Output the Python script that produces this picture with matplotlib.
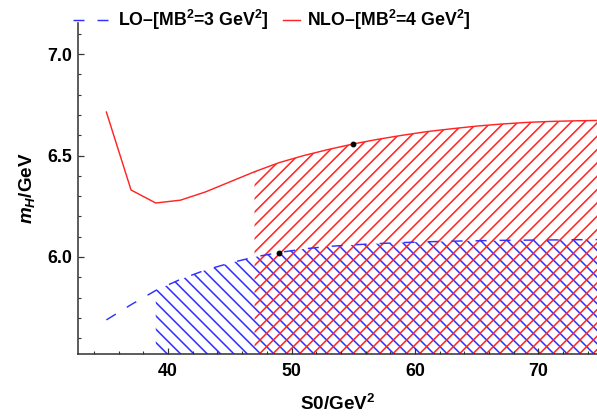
import numpy as np
import matplotlib
matplotlib.use("Agg")
import matplotlib.pyplot as plt
from matplotlib.ticker import MultipleLocator

#values
s0 = [35, 37, 39, 41, 43, 45, 47, 49, 51, 53, 55, 57, 59, 61, 63, 65, 67, 69, 71, 73, 75]
m_nlo = [6.714, 6.33, 6.266, 6.28, 6.32, 6.37, 6.42, 6.465, 6.50, 6.53, 6.557, 6.58,
         6.60, 6.618, 6.632, 6.645, 6.655, 6.663, 6.668, 6.671, 6.673]
m_lo = [5.69, 5.765, 5.835, 5.89, 5.935, 5.97, 6.0, 6.022, 6.04, 6.052, 6.06, 6.066,
        6.071, 6.075, 6.078, 6.08, 6.082, 6.083, 6.084, 6.085, 6.086]
lo_start = 39    #where the LO window begins
nlo_start = 47   #where the NLO window begins
dots_x = [49, 55]
dots_y = [6.022, 6.557]
lo_label = "LO\u2013[MB$^2$=3 GeV$^2$]"
nlo_label = "NLO\u2013[MB$^2$=4 GeV$^2$]"

plt.rcParams['font.family'] = 'Liberation Sans'
plt.rcParams['font.weight'] = 'bold'
plt.rcParams['mathtext.fontset'] = 'custom'
plt.rcParams['mathtext.rm'] = 'Liberation Sans:bold'
plt.rcParams['mathtext.it'] = 'Liberation Sans:italic:bold'
plt.rcParams['mathtext.bf'] = 'Liberation Sans:bold'
plt.rcParams['hatch.linewidth'] = 1.4
plt.rcParams['lines.scale_dashes'] = False

blue = '#3030ff'
red = '#ff2525'

dpi = 80
fig = plt.figure(figsize=(597 / dpi, 417 / dpi), dpi=dpi)
ax = fig.add_axes([78 / 597, 63 / 417, 519 / 597, 331 / 417])

x = np.array(s0)
lo = np.array(m_lo)
nlo = np.array(m_nlo)

#hatched windows, down to below the axis
ax.fill_between(x, lo, 5.0, where=x >= lo_start, facecolor='none', edgecolor=blue,
                hatch='\\\\', linewidth=0)
ax.fill_between(x, nlo, 5.0, where=x >= nlo_start, facecolor='none', edgecolor=red,
                hatch='//', linewidth=0)

l1, = ax.plot(x, lo, color=blue, lw=1.3, dashes=(9.9, 11.7), label=lo_label)
l2, = ax.plot(x, nlo, color=red, lw=1.3, label=nlo_label)
ax.scatter(dots_x, dots_y, s=18, color='black', zorder=5)

ax.set_xlim(32.7, 74.75)
ax.set_ylim(5.522, 7.153)

for side in ['top', 'right']:
    ax.spines[side].set_visible(False)
for side in ['left', 'bottom']:
    ax.spines[side].set_color('#333333')
    ax.spines[side].set_linewidth(1.4)

ax.xaxis.set_major_locator(MultipleLocator(10))
ax.xaxis.set_minor_locator(MultipleLocator(2))
ax.yaxis.set_major_locator(MultipleLocator(0.5))
ax.yaxis.set_minor_locator(MultipleLocator(0.1))
ax.yaxis.set_major_formatter(plt.FormatStrFormatter('%.1f'))
ax.tick_params(which='major', direction='in', length=5.5, width=1.1, color='#333333',
               labelsize=16)
ax.tick_params(which='minor', direction='in', length=3, width=1.0, color='#333333')
ax.tick_params(axis='x', pad=8)
ax.tick_params(axis='y', pad=5)
for t in ax.get_xticklabels() + ax.get_yticklabels():
    t.set_fontweight('bold')

ax.set_xlabel("S0/GeV$^2$", fontsize=17, fontweight='bold')
ax.set_ylabel("$m_H$/GeV", fontsize=17, fontweight='bold')
ax.xaxis.set_label_coords(0.5, -0.122)
ax.yaxis.set_label_coords(-0.079, 0.5)

#two legends so that each handle gets its own length
legprops = {'weight': 'bold', 'size': 16}
leg1 = ax.legend(handles=[l1], loc='center left', bbox_to_anchor=(73 / 597, 1 - 20 / 417),
                 bbox_transform=fig.transFigure, frameon=False, prop=legprops,
                 borderpad=0, borderaxespad=0, handlelength=1.97, handletextpad=0.56)
ax.add_artist(leg1)
ax.legend(handles=[l2], loc='center left', bbox_to_anchor=(283 / 597, 1 - 20 / 417),
          bbox_transform=fig.transFigure, frameon=False, prop=legprops,
          borderpad=0, borderaxespad=0, handlelength=0.96, handletextpad=0.4)

fig.savefig("out.png", dpi=dpi)
